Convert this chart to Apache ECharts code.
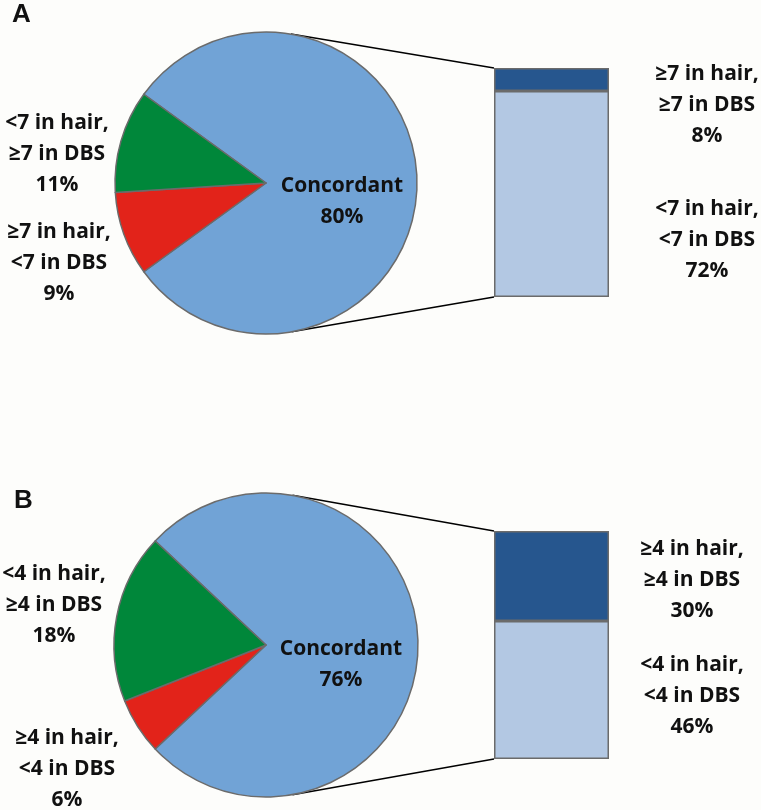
<!DOCTYPE html>
<html><head><meta charset="utf-8">
<script src="https://cdn.jsdelivr.net/npm/echarts@6/dist/echarts.min.js"></script>
<style>html,body{margin:0;padding:0;background:#fdfdfb}#c{width:761px;height:810px}</style>
</head><body><div id="c"></div>
<script>
// ---- data ----
const panelLetters = ['A', 'B'];
// pie slices: concordant, ≥x in hair/<x in DBS (red), <x in hair/≥x in DBS (green)
const pieNamesA = ['Concordant', '≥7 in hair,\n<7 in DBS', '<7 in hair,\n≥7 in DBS'];
const pieValuesA = [80, 9, 11];
const pieNamesB = ['Concordant', '≥4 in hair,\n<4 in DBS', '<4 in hair,\n≥4 in DBS'];
const pieValuesB = [76, 6, 18];
// bar split of concordant: [low/low (light), high/high (dark)]
const barNamesA = ['<7 in hair,\n<7 in DBS', '≥7 in hair,\n≥7 in DBS'];
const barValuesA = [72, 8];
const barNamesB = ['<4 in hair,\n<4 in DBS', '≥4 in hair,\n≥4 in DBS'];
const barValuesB = [46, 30];

// ---- style / layout ----
const pieColors = ['#71a3d6', '#e2231a', '#00873a'];
const barColors = ['#b3c8e3', '#26568e'];
const edge = '#6b6b6b';
const font = {fontFamily: 'Open Sans', fontWeight: 'bold', fontSize: 21, color: '#111', lineHeight: 31};
const pies = [{c: [266, 183], r: 151}, {c: [266, 645], r: 152}];
const grids = [{left: 494, top: 68, width: 115, height: 229}, {left: 494, top: 531, width: 115, height: 228}];
// label anchor positions (center of text block), by series key and data index
const labelPos = {
  pieA: [[342, 202], [59, 263], [57, 154]],
  pieB: [[341, 665], [67, 769], [54, 605]],
  barA: [[707, 240], [707, 105.5]],
  barB: [[692, 696], [692, 580]]
};
function layoutFn(key, fixedIdx) {
  return function (p) {
    const pos = labelPos[key][fixedIdx != null ? fixedIdx : p.dataIndex];
    return {x: pos[0], y: pos[1], align: 'center', verticalAlign: 'middle', hideOverlap: false, moveOverlap: null};
  };
}

function pieSeries(names, values, idx, key) {
  const total = values.reduce((a, b) => a + b, 0);
  const others = total - values[0];
  return {
    type: 'pie', center: pies[idx].c, radius: pies[idx].r,
    startAngle: 180 - (others / total) * 180, clockwise: true,
    avoidLabelOverlap: false, silent: true,
    itemStyle: {borderColor: edge, borderWidth: 1.5},
    label: Object.assign({show: true, position: 'inside', align: 'center', formatter: p => p.name + '\n' + p.value + '%'}, font),
    labelLine: {show: false},
    labelLayout: layoutFn(key),
    data: names.map((n, i) => ({name: n, value: values[i], itemStyle: {color: pieColors[i]}}))
  };
}
function barSeries(names, values, gi, key) {
  return values.map((v, i) => ({
    type: 'bar', xAxisIndex: gi, yAxisIndex: gi, stack: 's' + gi, barWidth: '100%', silent: true,
    itemStyle: {color: barColors[i], borderColor: edge, borderWidth: 1.5},
    label: Object.assign({show: true, position: 'inside', formatter: () => names[i] + '\n' + v + '%'}, font),
    labelLayout: layoutFn(key, i),
    data: [v]
  }));
}

const chart = echarts.init(document.getElementById('c'), null, {renderer: 'canvas'});
const sumA = barValuesA.reduce((a, b) => a + b, 0), sumB = barValuesB.reduce((a, b) => a + b, 0);
const letterStyle = {fontFamily: 'Liberation Sans', fontWeight: 'bold', fontSize: 26, color: '#111', lineHeight: 26};
chart.setOption({
  backgroundColor: '#fdfdfb',
  animation: false,
  title: [
    {text: panelLetters[0], left: 12, top: 2, padding: 0, textStyle: letterStyle},
    {text: panelLetters[1], left: 14, top: 488, padding: 0, textStyle: letterStyle}
  ],
  grid: grids,
  xAxis: grids.map((g, i) => ({type: 'category', gridIndex: i, data: [''], show: false})),
  yAxis: [
    {type: 'value', gridIndex: 0, min: 0, max: sumA, show: false},
    {type: 'value', gridIndex: 1, min: 0, max: sumB, show: false}
  ],
  series: [
    pieSeries(pieNamesA, pieValuesA, 0, 'pieA'),
    pieSeries(pieNamesB, pieValuesB, 1, 'pieB'),
    ...barSeries(barNamesA, barValuesA, 0, 'barA'),
    ...barSeries(barNamesB, barValuesB, 1, 'barB')
  ]
});

// connector lines: tangent from bar corners to pie circle
function tangent(P, C, r, upper) {
  const dx = P[0] - C[0], dy = P[1] - C[1];
  const d = Math.hypot(dx, dy);
  const phi = Math.atan2(dy, dx), a = Math.acos(r / d);
  const t = upper ? phi - a : phi + a;
  return [C[0] + r * Math.cos(t), C[1] + r * Math.sin(t)];
}
const lines = [];
[[sumA, 0], [sumB, 1]].forEach(([tot, gi]) => {
  const topPx = chart.convertToPixel({gridIndex: gi}, [0, tot])[1];
  const botPx = chart.convertToPixel({gridIndex: gi}, [0, 0])[1];
  const x = grids[gi].left;
  const pTop = [x, topPx], pBot = [x, botPx];
  const tTop = tangent(pTop, pies[gi].c, pies[gi].r, true);
  const tBot = tangent(pBot, pies[gi].c, pies[gi].r, false);
  lines.push({type: 'line', z: 1, shape: {x1: tTop[0], y1: tTop[1], x2: pTop[0], y2: pTop[1]}, style: {stroke: '#000', lineWidth: 1.5}});
  lines.push({type: 'line', z: 1, shape: {x1: tBot[0], y1: tBot[1], x2: pBot[0], y2: pBot[1]}, style: {stroke: '#000', lineWidth: 1.5}});
});
chart.setOption({graphic: lines});
</script></body></html>
